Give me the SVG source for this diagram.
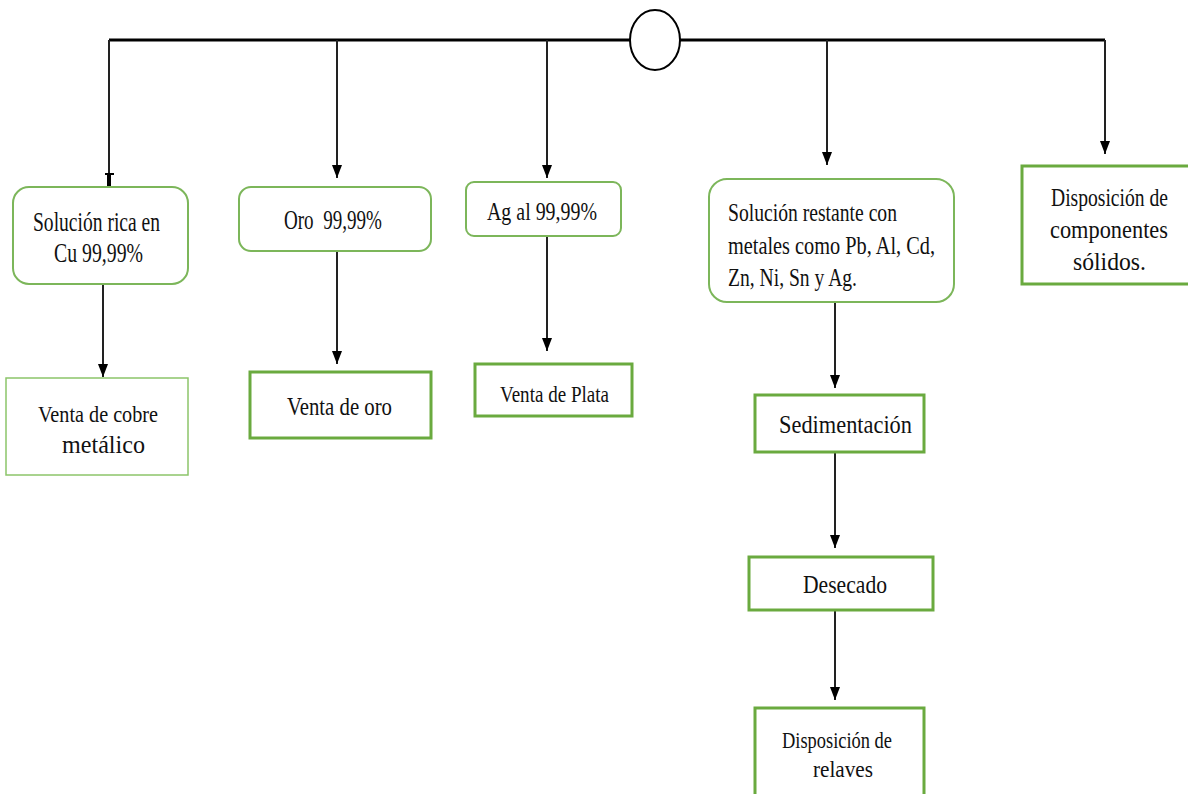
<svg xmlns="http://www.w3.org/2000/svg" width="1188" height="794" viewBox="0 0 1188 794">
<style>
.rb{fill:#fff;stroke:#7cb65a;stroke-width:2}
.sq{fill:#fff;stroke:#6aaa3f;stroke-width:3}
.thin{fill:#fff;stroke:#8cc56a;stroke-width:1.5}
.t{font-family:"Liberation Serif","Times New Roman",serif;fill:#111}
.c{fill:none;stroke:#222;stroke-width:2}
</style>
<defs>
<marker id="ah" markerUnits="userSpaceOnUse" viewBox="0 0 13 10" markerWidth="13" markerHeight="10" refX="13" refY="5" orient="auto">
<path d="M0,0 L13,5 L0,10 z" fill="#000"/>
</marker>
</defs>
<rect width="1188" height="794" fill="#fff"/>
<g id="connectors">
<path d="M109,40 H1105" fill="none" stroke="#000" stroke-width="3"/>
<path class="c" d="M109,40 V187" stroke="#000" stroke-width="2.5"/>
<path d="M105,174 H114" stroke="#000" stroke-width="2"/>
<path d="M109,174 V187" stroke="#000" stroke-width="4"/>
<path class="c" d="M337,40 V178" marker-end="url(#ah)"/>
<path class="c" d="M547,40 V178" marker-end="url(#ah)"/>
<path class="c" d="M827,40 V165" marker-end="url(#ah)"/>
<path class="c" d="M1105,40 V154" marker-end="url(#ah)"/>
<path class="c" d="M103,284 V377" stroke="#444" marker-end="url(#ah)"/>
<path class="c" d="M337,251 V364" stroke="#444" marker-end="url(#ah)"/>
<path class="c" d="M547,236 V351" marker-end="url(#ah)"/>
<path class="c" d="M835,302 V388" marker-end="url(#ah)"/>
<path class="c" d="M835,453 V548" marker-end="url(#ah)"/>
<path class="c" d="M835,611 V700" marker-end="url(#ah)"/>
</g>
<g id="junction">
<ellipse cx="655" cy="40" rx="25" ry="30" fill="#fff" stroke="#000" stroke-width="2"/>
</g>
<g id="n1">
<rect class="rb" x="13" y="187" width="175" height="97" rx="16"/>
<text class="t" font-size="27" x="33" y="231" textLength="127" lengthAdjust="spacingAndGlyphs">Solución rica en</text>
<text class="t" font-size="27" x="54" y="262" textLength="89" lengthAdjust="spacingAndGlyphs">Cu 99,99%</text>
</g>
<g id="n2">
<rect class="rb" x="239" y="187" width="192" height="64" rx="12"/>
<text class="t" font-size="27" x="284" y="229" textLength="98" lengthAdjust="spacingAndGlyphs" xml:space="preserve">Oro  99,99%</text>
</g>
<g id="n3">
<rect class="rb" x="466" y="182" width="155" height="54" rx="8"/>
<text class="t" font-size="25" x="487" y="220" textLength="110" lengthAdjust="spacingAndGlyphs">Ag al 99,99%</text>
</g>
<g id="n4">
<rect class="rb" x="709" y="179" width="245" height="123" rx="18"/>
<text class="t" font-size="26" x="728" y="221" textLength="169" lengthAdjust="spacingAndGlyphs">Solución restante con</text>
<text class="t" font-size="26" x="728" y="254" textLength="207" lengthAdjust="spacingAndGlyphs">metales como Pb, Al, Cd,</text>
<text class="t" font-size="26" x="728" y="286" textLength="129" lengthAdjust="spacingAndGlyphs">Zn, Ni, Sn y Ag.</text>
</g>
<g id="n5">
<path class="sq" d="M1190,166 H1022 V284 H1190"/>
<g transform="scale(0.8,1)">
<text class="t" font-size="26" x="1313.75" y="206" textLength="146.25" lengthAdjust="spacingAndGlyphs">Disposición de</text>
<text class="t" font-size="26" x="1312.5" y="238" textLength="147.5" lengthAdjust="spacingAndGlyphs">componentes</text>
<text class="t" font-size="26" x="1341.25" y="270" textLength="91.25" lengthAdjust="spacingAndGlyphs">sólidos.</text>
</g>
</g>
<g id="n6">
<rect class="thin" x="6" y="378" width="182" height="97"/>
<text class="t" font-size="24" x="38" y="422" textLength="120" lengthAdjust="spacingAndGlyphs">Venta de cobre</text>
<text class="t" font-size="26" x="62" y="453" textLength="83" lengthAdjust="spacingAndGlyphs">metálico</text>
</g>
<g id="n7">
<rect class="sq" x="250" y="372" width="181" height="66"/>
<text class="t" font-size="25" x="287" y="415" textLength="105" lengthAdjust="spacingAndGlyphs">Venta de oro</text>
</g>
<g id="n8">
<rect class="sq" x="475" y="364" width="157" height="52"/>
<text class="t" font-size="24" x="500" y="402" textLength="109" lengthAdjust="spacingAndGlyphs">Venta de Plata</text>
</g>
<g id="n9">
<rect class="sq" x="755" y="395" width="169" height="57"/>
<text class="t" font-size="26" x="779" y="433" textLength="133" lengthAdjust="spacingAndGlyphs">Sedimentación</text>
</g>
<g id="n10">
<rect class="sq" x="749" y="557" width="184" height="53"/>
<text class="t" font-size="25" x="803" y="593" textLength="84" lengthAdjust="spacingAndGlyphs">Desecado</text>
</g>
<g id="n11">
<path class="sq" d="M755,800 V708 H924 V800"/>
<text class="t" font-size="24" x="782" y="748" textLength="110" lengthAdjust="spacingAndGlyphs">Disposición de</text>
<text class="t" font-size="24" x="813" y="777" textLength="60" lengthAdjust="spacingAndGlyphs">relaves</text>
</g>
</svg>
